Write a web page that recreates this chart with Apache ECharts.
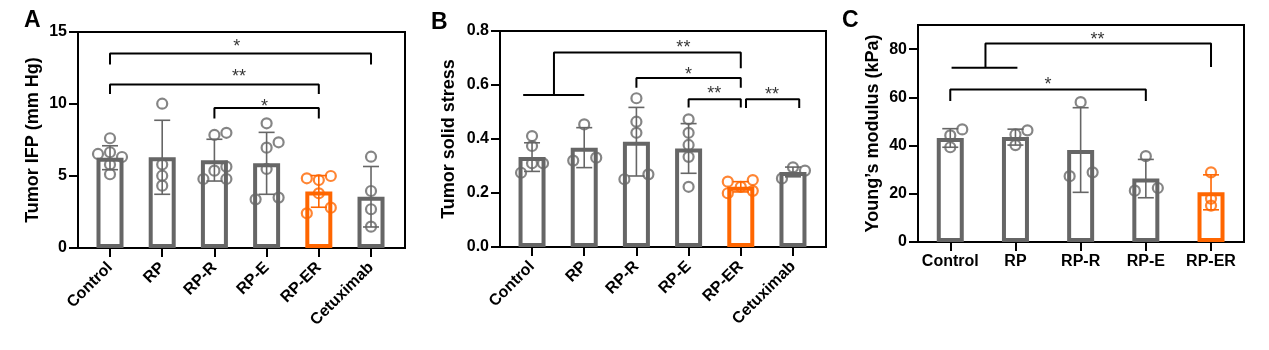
<!DOCTYPE html>
<html>
<head>
<meta charset="utf-8">
<script src="https://cdn.jsdelivr.net/npm/echarts@6/dist/echarts.min.js"></script>
<style>
html,body{margin:0;padding:0;background:#fff;}
#chart{width:1269px;height:350px;}
</style>
</head>
<body>
<div id="chart"></div>
<script>
// ---------- DATA ----------
const categoriesAB = ['Control','RP','RP-R','RP-E','RP-ER','Cetuximab'];
const categoriesC = ['Control','RP','RP-R','RP-E','RP-ER'];

// Panel A: Tumor IFP (mm Hg)
const meanA = [6.27, 6.3, 6.1, 5.88, 3.93, 3.56];
const sdA   = [0.83, 2.57, 1.45, 2.15, 1.1, 2.1];
const pointsA = [
  [6.53, 7.62, 6.65, 6.32, 5.8, 5.12],
  [10.02, 5.8, 5.02, 4.33],
  [7.85, 8.0, 4.79, 5.37, 5.65, 4.79],
  [8.66, 6.97, 7.34, 5.49, 3.38, 3.5],
  [4.84, 4.72, 5.0, 3.8, 2.41, 2.8],
  [6.34, 3.96, 2.69, 1.48]
];
// Panel B: Tumor solid stress
const meanB = [0.333, 0.368, 0.39, 0.365, 0.223, 0.278];
const sdB   = [0.053, 0.074, 0.127, 0.092, 0.019, 0.018];
const pointsB = [
  [0.275, 0.411, 0.374, 0.31, 0.31],
  [0.32, 0.454, 0.331],
  [0.551, 0.464, 0.423, 0.251, 0.269],
  [0.473, 0.423, 0.378, 0.334, 0.223],
  [0.242, 0.199, 0.223, 0.248, 0.208],
  [0.254, 0.295, 0.283]
];
// Panel C: Young's modulus (kPa)
const meanC = [43.15, 43.5, 38.15, 26.3, 20.6];
const sdC   = [3.85, 3.3, 17.55, 7.95, 7.25];
const pointsC = [
  [44.2, 46.7, 39.3],
  [44.6, 46.3, 40.2],
  [58.0, 27.3, 28.9],
  [35.6, 21.3, 22.4],
  [28.9, 18.0, 15.1]
];
const highlightIndex = 4; // RP-ER drawn in orange

// Y axis ticks
const yTicksA = [0, 5, 10, 15];
const yTicksB = [0, 0.2, 0.4, 0.6, 0.8];
const yTicksC = [0, 20, 40, 60, 80];

// Significance annotations: polyline in (category index, value) + star text/position
const bracketsA = [
  {path: [[0,12.75],[0,13.5],[5,13.5],[5,12.75]], text: '*', at: [2.43, 14.22]},
  {path: [[0,10.7],[0,11.35],[4,11.35],[4,10.7]], text: '**', at: [2.47, 12.13]},
  {path: [[2,9.0],[2,9.72],[4,9.72],[4,9.0]], text: '*', at: [2.96, 10.09]}
];
const bracketsB = [
  {path: [[-0.17,0.563],[1.0,0.563]], text: '', at: null},
  {path: [[0.42,0.563],[0.42,0.72],[4,0.72],[4,0.662]], text: '**', at: [2.9, 0.751]},
  {path: [[2,0.59],[2,0.626],[4,0.626],[4,0.59]], text: '*', at: [3.0, 0.651]},
  {path: [[3,0.517],[3,0.547],[4,0.547],[4,0.517]], text: '**', at: [3.49, 0.581]},
  {path: [[4.1,0.515],[4.1,0.547],[5.12,0.547],[5.12,0.515]], text: '**', at: [4.6, 0.579]}
];
const bracketsC = [
  {path: [[0.02,72.3],[1.03,72.3]], text: '', at: null},
  {path: [[0.54,72.3],[0.54,82.3],[4,82.3],[4,72.6]], text: '**', at: [2.26, 85.5]},
  {path: [[0,58.5],[0,63.3],[3,63.3],[3,58.5]], text: '*', at: [1.5, 66.8]}
];

// Horizontal scatter offsets of the individual points (px)
const jitterA = [[-12,0,0,12,0,0],[0,0,0,0],[0,12,-11,0,12,12],[0,0,12,0,-11,12],[-12,0,12,0,-12,12],[0,0,0,0]];
const jitterB = [[-11,0,0,0,11],[-11,0,12],[0,0,0,-12,12],[0,0,0,0,0],[-13,-13,0,12,12],[-11,0,12]];
const jitterC = [[0,12,0],[0,12,0],[0,-11,12],[0,-11,12],[0,0,0]];

// ---------- STYLE ----------
const GRAY = '#666666';
const ORANGE = '#FF6600';
const FONT = "'Liberation Sans', Arial, Helvetica, sans-serif";

const panels = [
  {cats: categoriesAB, mean: meanA, sd: sdA, pts: pointsA, jit: jitterA, br: bracketsA,
   grid: {left: 78, top: 32, width: 327, height: 216}, xmin: -0.613, xmax: 5.651,
   ymin: 0, ymax: 15, yticks: yTicksA, fmt: v => String(v), name: 'Tumor IFP (mm Hg)', nameGap: 36, rotate: 45},
  {cats: categoriesAB, mean: meanB, sd: sdB, pts: pointsB, jit: jitterB, br: bracketsB,
   grid: {left: 500, top: 31, width: 326, height: 216}, xmin: -0.614, xmax: 5.633,
   ymin: 0, ymax: 0.8, yticks: yTicksB, fmt: v => v.toFixed(1), name: 'Tumor solid stress', nameGap: 42, rotate: 45},
  {cats: categoriesC, mean: meanC, sd: sdC, pts: pointsC, jit: jitterC, br: bracketsC,
   grid: {left: 918, top: 25, width: 326, height: 217}, xmin: -0.495, xmax: 4.506,
   ymin: 0, ymax: 90, yticks: yTicksC, fmt: v => String(v), name: 'Young\u2019s modulus (kPa)', nameGap: 36, rotate: 0}
];

const grids = [], xAxes = [], yAxes = [], series = [];

panels.forEach((p, gi) => {
  grids.push(Object.assign({show: true, borderColor: '#000', borderWidth: 2, backgroundColor: 'transparent'}, p.grid));
  const idx = p.cats.map((_, i) => i);
  xAxes.push({
    gridIndex: gi, type: 'value', min: p.xmin, max: p.xmax,
    axisLine: {show: true, onZero: false, lineStyle: {color: '#000', width: 2}},
    axisTick: {show: true, customValues: idx, length: 9, lineStyle: {color: '#000', width: 2}},
    axisLabel: {show: true, customValues: idx, formatter: v => p.cats[Math.round(v)],
      rotate: p.rotate, margin: p.rotate ? 17 : 12, fontSize: 16, fontWeight: 'bold', color: '#000', fontFamily: FONT},
    splitLine: {show: false}
  });
  yAxes.push({
    gridIndex: gi, type: 'value', min: p.ymin, max: p.ymax,
    axisLine: {show: true, onZero: false, lineStyle: {color: '#000', width: 2}},
    axisTick: {show: true, customValues: p.yticks, length: 9, lineStyle: {color: '#000', width: 2}},
    axisLabel: {show: true, customValues: p.yticks, formatter: p.fmt, margin: 11,
      fontSize: 16, fontWeight: 'bold', color: '#000', fontFamily: FONT},
    splitLine: {show: false},
    name: p.name, nameLocation: 'middle', nameGap: p.nameGap,
    nameTextStyle: {fontSize: 18, fontWeight: 'bold', color: '#000', fontFamily: FONT}
  });
  const pxPerUnit = p.grid.width / (p.xmax - p.xmin);
  const colorOf = i => i === highlightIndex ? ORANGE : GRAY;

  // bars
  series.push({
    type: 'bar', xAxisIndex: gi, yAxisIndex: gi, barWidth: 27, z: 2,
    data: p.mean.map((m, i) => ({value: [i, m], itemStyle: {color: '#fff', borderColor: colorOf(i), borderWidth: 4}})),
    animation: false
  });
  // error bars
  series.push({
    type: 'custom', xAxisIndex: gi, yAxisIndex: gi, z: 3,
    data: p.mean.map((m, i) => [i, m, p.sd[i]]),
    renderItem: (params, api) => {
      const x = api.value(0), m = api.value(1), s = api.value(2);
      const top = api.coord([x, m + s]), bot = api.coord([x, m - s]);
      const c = colorOf(params.dataIndex);
      const style = {stroke: c, lineWidth: 1.6};
      return {type: 'group', children: [
        {type: 'line', shape: {x1: top[0], y1: top[1], x2: bot[0], y2: bot[1]}, style},
        {type: 'line', shape: {x1: top[0] - 8, y1: top[1], x2: top[0] + 8, y2: top[1]}, style},
        {type: 'line', shape: {x1: bot[0] - 8, y1: bot[1], x2: bot[0] + 8, y2: bot[1]}, style}
      ]};
    },
    animation: false
  });
  // individual points
  const pdata = [];
  p.pts.forEach((arr, i) => arr.forEach((v, k) => {
    pdata.push({value: [i + p.jit[i][k] / pxPerUnit, v],
      itemStyle: {color: 'rgba(255,255,255,0)', borderColor: colorOf(i), borderWidth: 2.2}});
  }));
  series.push({type: 'scatter', xAxisIndex: gi, yAxisIndex: gi, z: 4, symbol: 'circle', symbolSize: 10,
    data: pdata, animation: false});
  // brackets
  p.br.forEach(b => {
    series.push({type: 'line', xAxisIndex: gi, yAxisIndex: gi, z: 5, data: b.path, symbol: 'none',
      lineStyle: {color: '#000', width: 2}, animation: false, silent: true});
  });
  // stars
  series.push({type: 'scatter', xAxisIndex: gi, yAxisIndex: gi, z: 6, symbolSize: 1,
    itemStyle: {color: 'rgba(0,0,0,0)'},
    data: p.br.filter(b => b.at).map(b => ({value: b.at, name: b.text})),
    label: {show: true, position: 'inside', formatter: d => d.name, offset: [0, 4],
      fontSize: 18, color: '#000', fontFamily: FONT},
    animation: false, silent: true});
});

const chart = echarts.init(document.getElementById('chart'), null, {renderer: 'canvas'});
chart.setOption({
  animation: false,
  grid: grids, xAxis: xAxes, yAxis: yAxes, series: series,
  graphic: [
    {type: 'text', left: 24, top: 9, style: {text: 'A', fontSize: 23, fontWeight: 'bold', fill: '#000', fontFamily: FONT}},
    {type: 'text', left: 431, top: 11, style: {text: 'B', fontSize: 23, fontWeight: 'bold', fill: '#000', fontFamily: FONT}},
    {type: 'text', left: 842, top: 9, style: {text: 'C', fontSize: 23, fontWeight: 'bold', fill: '#000', fontFamily: FONT}}
  ]
});
</script>
</body>
</html>
